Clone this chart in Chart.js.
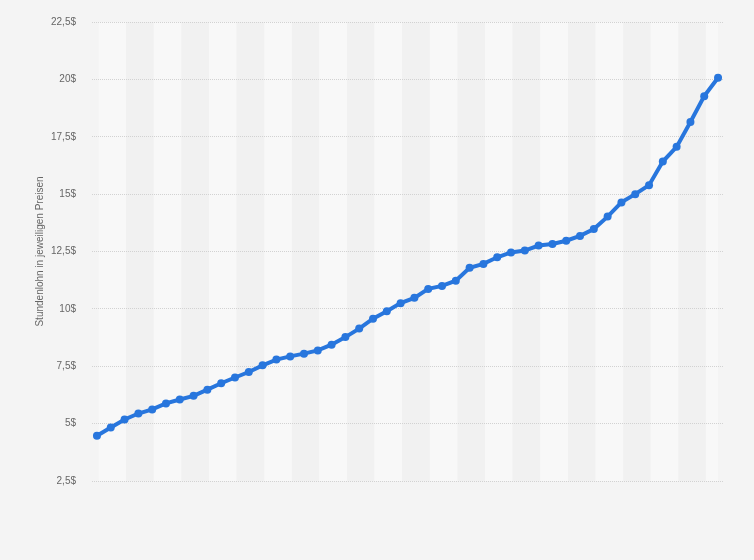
<!DOCTYPE html>
<html>
<head>
<meta charset="utf-8">
<script src="https://cdn.jsdelivr.net/npm/chart.js@4.4.0/dist/chart.umd.min.js"></script>
<style>
    html, body { margin: 0; padding: 0; background: #f4f4f4; }
    #wrap { width: 754px; height: 560px; }
</style>
</head>
<body>
<div id="wrap"><canvas id="myChart" width="754" height="560"></canvas></div>
<script>
// Stundenlohn je Jahr (46 Werte)
var stundenlohn = [
    4.47, 4.83, 5.18, 5.44, 5.62, 5.88, 6.05, 6.21, 6.48, 6.76,
    7.01, 7.25, 7.54, 7.79, 7.93, 8.05, 8.19, 8.44, 8.77, 9.14,
    9.57, 9.90, 10.25, 10.48, 10.87, 11.00, 11.23, 11.79, 11.96, 12.25,
    12.46, 12.54, 12.76, 12.83, 12.97, 13.18, 13.48, 14.02, 14.64, 15.00,
    15.39, 16.42, 17.06, 18.14, 19.27, 20.07
];
var yTicks = [2.5, 5, 7.5, 10, 12.5, 15, 17.5, 20, 22.5];
var yTitel = 'Stundenlohn in jeweiligen Preisen';

var lineColor = '#2876dd';

function formatDollar(v) {
    return String(v).replace('.', ',') + '$';
}

// abwechselnde senkrechte Streifen, vor dem Gitter gezeichnet
var streifen = {
    id: 'streifen',
    beforeDraw: function(chart) {
        var ctx = chart.ctx;
        var x = chart.scales.x;
        var area = chart.chartArea;
        var last = stundenlohn.length - 1;
        ctx.save();
        for (let k = 0; k * 2 < last; k++) {
            let a = x.getPixelForValue(k * 2 + 0.12);
            let b = x.getPixelForValue(Math.min(k * 2 + 2.12, last));
            ctx.fillStyle = (k % 2 == 0) ? '#f8f8f8' : '#f1f1f1';
            ctx.fillRect(a, area.top, b - a, area.bottom - area.top);
        }
        ctx.restore();
    }
};

var ctx = document.getElementById('myChart').getContext('2d');
var myChart = new Chart(ctx, {
    type: 'line',
    data: {
        datasets: [{
            label: yTitel,
            data: stundenlohn.map(function(v, i) { return { x: i, y: v }; }),
            borderColor: lineColor,
            backgroundColor: lineColor,
            borderWidth: 4,
            pointRadius: 4,
            pointHoverRadius: 4,
            pointBorderWidth: 0,
            tension: 0
        }]
    },
    options: {
        responsive: false,
        animation: false,
        layout: { padding: { left: 0, top: 19, right: 31, bottom: 79 } },
        plugins: {
            legend: { display: false },
            tooltip: { enabled: false }
        },
        scales: {
            x: {
                type: 'linear',
                display: false,
                min: -0.36,
                max: stundenlohn.length - 1 + 0.36
            },
            y: {
                min: 2.5,
                max: 22.5,
                afterFit: function(scale) { scale.width = 92; },
                afterBuildTicks: function(scale) {
                    scale.ticks = yTicks.map(function(v) { return { value: v }; });
                },
                border: { display: false },
                grid: {
                    color: '#d2d2d2',
                    lineWidth: 1,
                    drawTicks: false
                },
                ticks: {
                    padding: 16,
                    color: '#666666',
                    font: { family: 'Liberation Sans, Arial', size: 10 },
                    callback: function(v) { return formatDollar(v); }
                },
                title: {
                    display: true,
                    text: yTitel,
                    color: '#666666',
                    padding: { top: 34, bottom: 0 },
                    font: { family: 'Liberation Sans, Arial', size: 10 }
                }
            }
        }
    },
    plugins: [streifen]
});
// gepunktete Gitterlinien
myChart.options.scales.y.border.dash = [1, 1];
myChart.update();
</script>
</body>
</html>
